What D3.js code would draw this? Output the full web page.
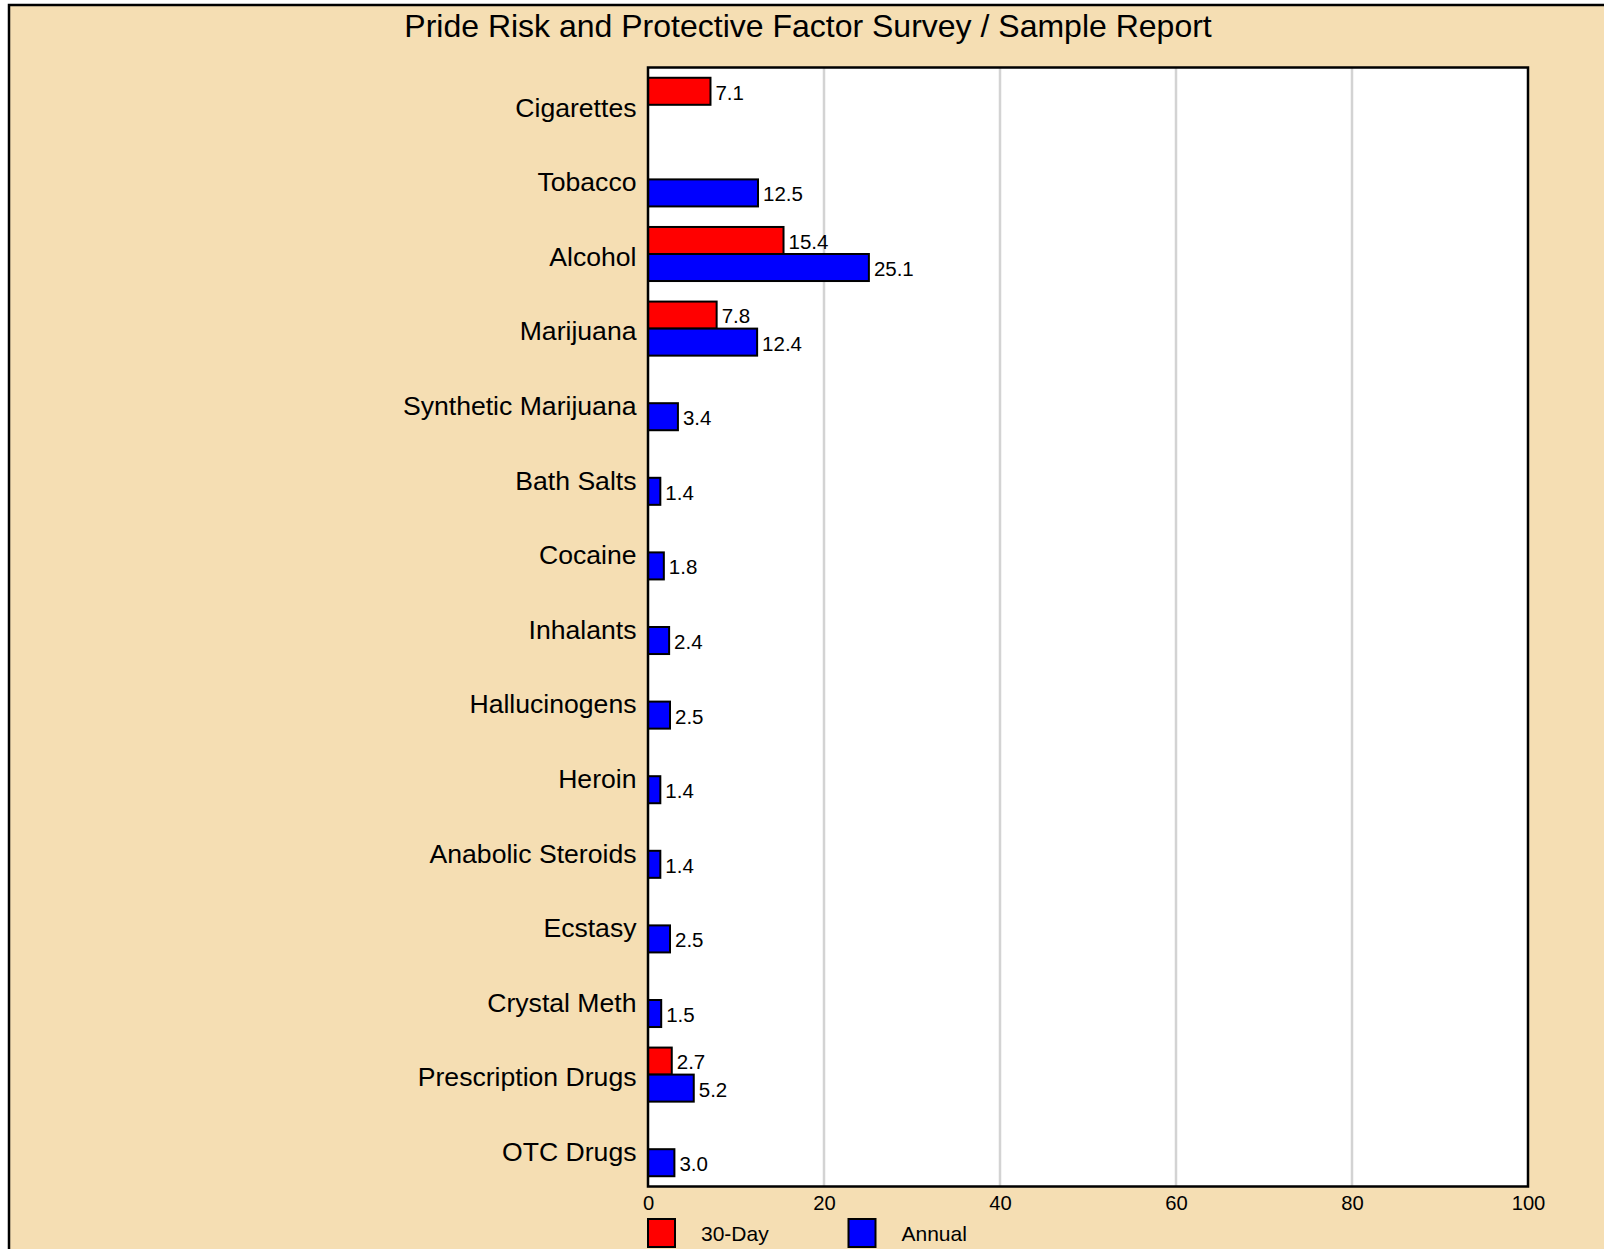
<!DOCTYPE html>
<html>
<head>
<meta charset="utf-8">
<script src="https://cdn.jsdelivr.net/npm/d3@7"></script>
<style>
  html, body { margin: 0; padding: 0; background: #fff; }
  svg { display: block; font-family: "Liberation Sans", Arial, sans-serif; }
</style>
</head>
<body>
<svg id="chart" width="1604" height="1249"></svg>
<script>
'use strict';

// chart data
var categories = ['Cigarettes', 'Tobacco', 'Alcohol', 'Marijuana', 'Synthetic Marijuana',
    'Bath Salts', 'Cocaine', 'Inhalants', 'Hallucinogens', 'Heroin',
    'Anabolic Steroids', 'Ecstasy', 'Crystal Meth', 'Prescription Drugs', 'OTC Drugs'];
var thirtyDay = [7.1, null, 15.4, 7.8, null, null, null, null, null, null, null, null, null, 2.7, null];
var annual = [null, 12.5, 25.1, 12.4, 3.4, 1.4, 1.8, 2.4, 2.5, 1.4, 1.4, 2.5, 1.5, 5.2, 3.0];
var seriesNames = ['30-Day', 'Annual'];
var seriesColors = ['#ff0000', '#0000ff'];
var xTicks = [0, 20, 40, 60, 80, 100];
var title = 'Pride Risk and Protective Factor Survey / Sample Report';

(function() {
    var svg = d3.select('#chart');
    var plot = {left: 648, right: 1528, top: 67.5, bottom: 1186.5};

    // background panel
    svg.append('rect')
        .attr('x', 9).attr('y', 5)
        .attr('width', 1620).attr('height', 1280)
        .attr('fill', '#f5deb3')
        .attr('stroke', '#000')
        .attr('stroke-width', 2.5);

    svg.append('text')
        .attr('x', 808).attr('y', 36.5)
        .attr('text-anchor', 'middle')
        .attr('font-size', '32px')
        .attr('fill', '#000')
        .text(title);

    var x = d3.scaleLinear().domain([0, 100]).range([plot.left, plot.right]);
    var y0 = d3.scaleBand().domain(categories).range([plot.top, plot.bottom]);
    var y1 = d3.scaleBand().domain(seriesNames).range([0, y0.bandwidth()]).paddingOuter(0.38);

    // plot area
    svg.append('rect')
        .attr('x', plot.left).attr('y', plot.top)
        .attr('width', plot.right - plot.left).attr('height', plot.bottom - plot.top)
        .attr('fill', '#fff');

    // grid
    svg.append('g').selectAll('line')
        .data(xTicks.slice(1, -1))
        .enter().append('line')
        .attr('x1', function(d) { return x(d); })
        .attr('x2', function(d) { return x(d); })
        .attr('y1', plot.top).attr('y2', plot.bottom)
        .attr('stroke', '#d3d3d3')
        .attr('stroke-width', 2.5);

    // bars
    var rows = [];
    categories.forEach(function(c, i) {
        [thirtyDay[i], annual[i]].forEach(function(v, s) {
            if (v != null) rows.push({cat: c, series: s, value: v});
        });
    });

    var bars = svg.append('g');
    bars.selectAll('rect')
        .data(rows)
        .enter().append('rect')
        .attr('x', x(0))
        .attr('y', function(d) { return y0(d.cat) + y1(seriesNames[d.series]); })
        .attr('width', function(d) { return x(d.value) - x(0); })
        .attr('height', y1.bandwidth())
        .attr('fill', function(d) { return seriesColors[d.series]; })
        .attr('stroke', '#000')
        .attr('stroke-width', 2);

    bars.selectAll('text')
        .data(rows)
        .enter().append('text')
        .attr('x', function(d) { return x(d.value) + 5; })
        .attr('y', function(d) { return y0(d.cat) + y1(seriesNames[d.series]) + y1.bandwidth() / 2; })
        .attr('dy', '0.41em')
        .attr('font-size', '20.5px')
        .text(function(d) { return d.value.toFixed(1); });

    // category labels
    svg.append('g').selectAll('text')
        .data(categories)
        .enter().append('text')
        .attr('x', plot.left - 11.5)
        .attr('y', function(d) { return y0(d) + y0.bandwidth() / 2; })
        .attr('dy', '0.44em')
        .attr('text-anchor', 'end')
        .attr('font-size', '26.6px')
        .text(function(d) { return d; });

    // x axis
    var xAxis = svg.append('g')
        .attr('transform', 'translate(0,' + plot.bottom + ')')
        .call(d3.axisBottom(x).tickValues(xTicks).tickSize(0).tickPadding(9));
    xAxis.select('.domain').remove();
    xAxis.selectAll('text')
        .attr('font-size', '20.2px')
        .attr('font-family', '"Liberation Sans", Arial, sans-serif')
        .attr('fill', '#000');

    // frame
    svg.append('rect')
        .attr('x', plot.left).attr('y', plot.top)
        .attr('width', plot.right - plot.left).attr('height', plot.bottom - plot.top)
        .attr('fill', 'none')
        .attr('stroke', '#000')
        .attr('stroke-width', 2.5);

    // legend
    var legendX = [648, 848.5];
    var legend = svg.append('g').selectAll('g')
        .data(seriesNames)
        .enter().append('g')
        .attr('transform', function(d, i) { return 'translate(' + legendX[i] + ',1219)'; });
    legend.append('rect')
        .attr('width', 27).attr('height', 28)
        .attr('fill', function(d, i) { return seriesColors[i]; })
        .attr('stroke', '#000')
        .attr('stroke-width', 2);
    legend.append('text')
        .attr('x', 53).attr('y', 14)
        .attr('dy', '0.36em')
        .attr('font-size', '21px')
        .text(function(d) { return d; });
})();
</script>
</body>
</html>
